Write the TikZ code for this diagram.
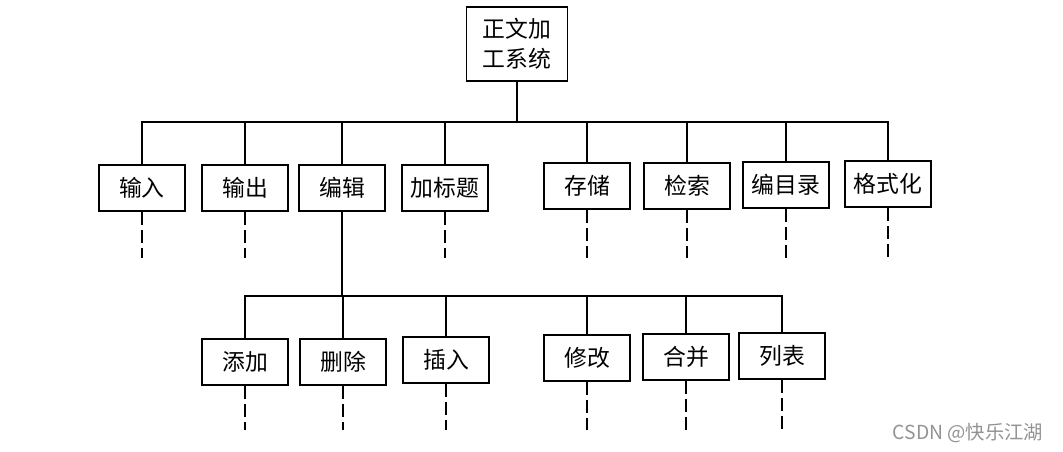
\documentclass[tikz,border=0pt]{standalone}
\usepackage{fontspec}
\setmainfont{Noto Sans CJK SC}
\usetikzlibrary{positioning}

\tikzset{
  modbox/.style={draw, line width=1pt, minimum width=1.72cm,
    minimum height=0.92cm, inner sep=0pt,
    font=\fontsize{13pt}{17pt}\selectfont},
  link/.style={line width=0.9pt},
  stub/.style={line width=0.9pt, dash pattern=on 0.26cm off 0.1cm}
}

\begin{document}
\begin{tikzpicture}[x=0.02cm, y=-0.02cm]

    \useasboundingbox (0,0) rectangle (1063,452);

    % ROOT
    \node[modbox, minimum width=2.02cm, minimum height=1.48cm, align=center]
        (sys) at (517,44) {正文加\\工系统};

    % FIRST LEVEL
    \node[modbox] (inp)     at (142,188) {输入};
    \node[modbox] (outp)    at (245,188) {输出};
    \node[modbox] (edit)    at (342,188) {编辑};
    \node[modbox] (title)   at (445,188) {加标题};
    \node[modbox] (store)   at (587,186) {存储};
    \node[modbox] (search)  at (687,186) {检索};
    \node[modbox] (catalog) at (786,185) {编目录};
    \node[modbox] (format)  at (888,184) {格式化};

    % SECOND LEVEL (UNDER EDIT)
    \node[modbox] (add)    at (245,362) {添加};
    \node[modbox] (del)    at (343,362) {删除};
    \node[modbox] (ins)    at (446,360) {插入};
    \node[modbox] (modify) at (587,358) {修改};
    \node[modbox] (merge)  at (686,357) {合并};
    \node[modbox] (listt)  at (782,356) {列表};

    % BUSES
    \coordinate (bus1) at (517,122);
    \coordinate (bus2) at (342,296);
    \coordinate (end1) at (0,258);
    \coordinate (end2) at (0,430);

    \draw[link] (sys) -- (bus1);
    \draw[link] (inp.north) |- (bus1) -| (format.north);
    \foreach \n in {outp,edit,title,store,search,catalog}
        \draw[link] (\n.north) -- (\n.north |- bus1);

    \draw[link] (edit.south) -- (bus2);
    \draw[link] (add.north) |- (bus2) -| (listt.north);
    \foreach \n in {del,ins,modify,merge}
        \draw[link] (\n.north) -- (\n.north |- bus2);

    % OPEN BRANCHES
    \foreach \n in {inp,outp,title,store,search,catalog,format}
        \draw[stub] (\n.south) -- (\n.south |- end1);
    \foreach \n in {add,del,ins,modify,merge,listt}
        \draw[stub] (\n.south) -- (\n.south |- end2);

    % WATERMARK
    \node[gray!85, font=\fontsize{11pt}{13pt}\selectfont]
        (mark) at (968,433) {CSDN @快乐江湖};

\end{tikzpicture}
\end{document}
